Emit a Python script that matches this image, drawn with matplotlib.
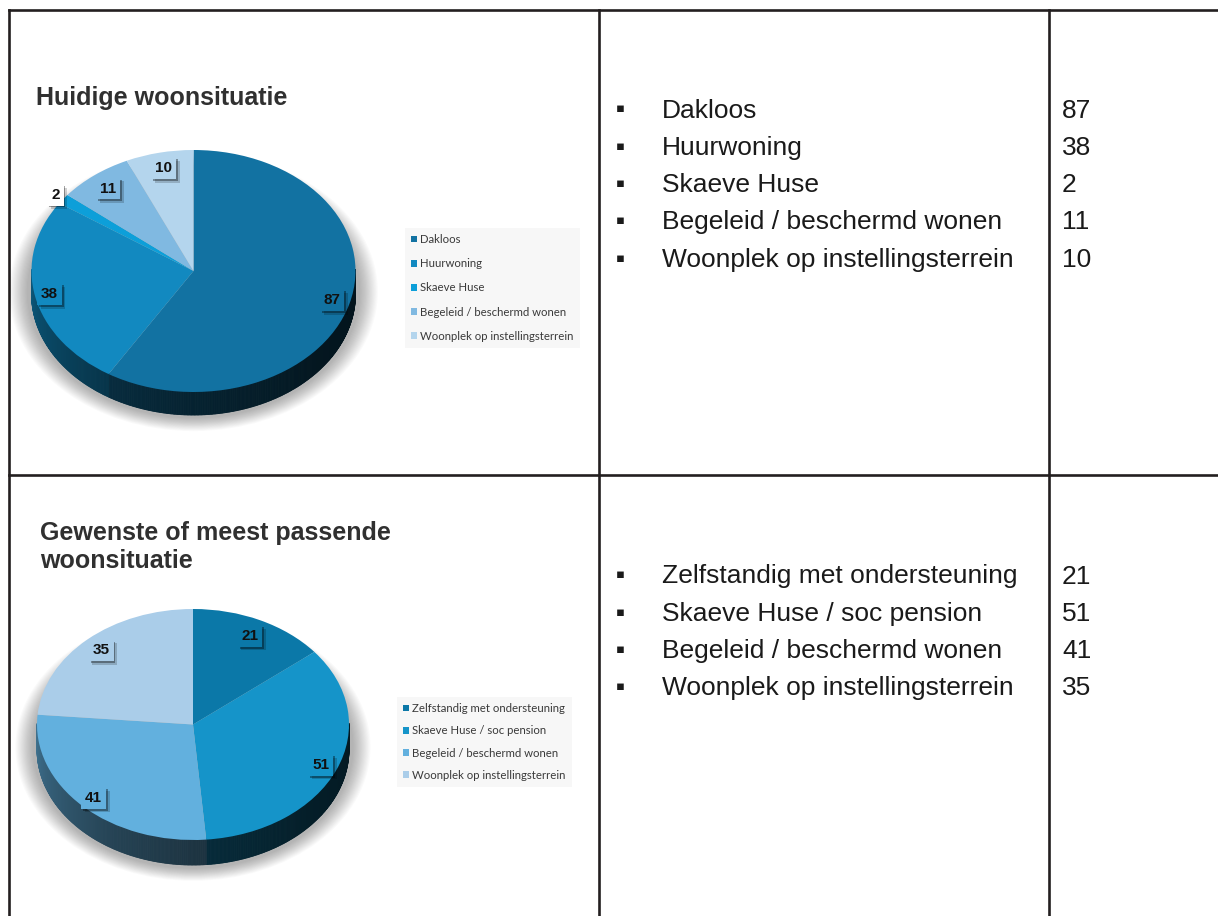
import numpy as np
import matplotlib
matplotlib.use('Agg')
import matplotlib.pyplot as plt
from matplotlib.collections import PolyCollection
from matplotlib.patches import Ellipse
import matplotlib.patheffects as pe
from matplotlib.colors import to_rgb

W, H = 1218, 916

# ---------------- data ----------------
current_title = 'Huidige woonsituatie'
current_labels = ['Dakloos', 'Huurwoning', 'Skaeve Huse',
                  'Begeleid / beschermd wonen', 'Woonplek op instellingsterrein']
current_values = [87, 38, 2, 11, 10]
current_colors = ['#1272a2', '#1289c0', '#0d9fd9', '#80b9e1', '#b4d5ed']

desired_title = ['Gewenste of meest passende', 'woonsituatie']
desired_labels = ['Zelfstandig met ondersteuning', 'Skaeve Huse / soc pension',
                  'Begeleid / beschermd wonen', 'Woonplek op instellingsterrein']
desired_values = [21, 51, 41, 35]
desired_colors = ['#0b78a8', '#1594c9', '#62b0de', '#aacde9']

# ---------------- figure ----------------
fig = plt.figure(figsize=(W / 100, H / 100), dpi=100)
fig.patch.set_facecolor('white')
bg = fig.add_axes([0, 0, 1, 1])
bg.set_xlim(0, W)
bg.set_ylim(H, 0)
bg.axis('off')

line_kw = dict(color='#231f20', lw=1.9, solid_capstyle='projecting')
bg.plot([9, W], [10, 10], **line_kw)
bg.plot([9, W], [475, 475], **line_kw)
for x in (9, 599, 1049):
    bg.plot([x, x], [10, H], **line_kw)

title_kw = dict(family=['Liberation Sans', 'DejaVu Sans'], fontweight='bold',
                fontsize=18, color='#303030', va='baseline', ha='left')
bg.text(36, 105, current_title, **title_kw)
for i, line in enumerate(desired_title):
    bg.text(40, 540 + 28 * i, line, **title_kw)

list_kw = dict(family=['Liberation Sans', 'DejaVu Sans'], fontsize=19,
               color='#1a1a1a', va='baseline', ha='left')


def draw_list(labels, values, y0, step):
    for i, (lab, val) in enumerate(zip(labels, values)):
        yb = y0 + i * step
        bg.text(616, yb - 5, '\u25aa', family='DejaVu Sans', fontsize=9.5,
                color='#1a1a1a', va='baseline', ha='left')
        bg.text(662, yb, lab, **list_kw)
        bg.text(1062, yb, str(val), **list_kw)


draw_list(current_labels, current_values, 117.5, 37.3)
draw_list(desired_labels, desired_values, 583.5, 37.3)


def draw_pie(cx, cy, rx, ry, depth_px, values, colors, labels, label_r,
             label_fc, leg_xy, leg_spacing):
    L = 1.22
    d = depth_px / ry
    left = cx - L * rx
    width = 2 * L * rx
    top = cy - L * ry
    bottom = cy + (L + d) * ry
    ax = fig.add_axes([left / W, 1 - bottom / H, width / W, (bottom - top) / H])
    ax.patch.set_alpha(0)

    # soft shadow
    for k in range(16):
        s = 1.0 + 0.007 * k
        ax.add_patch(Ellipse((0, -d * 0.9), 2 * s * 1.03, 2 * s + d * 0.5,
                             fc='#000000', ec='none', alpha=0.02, zorder=0))

    wedges, _ = ax.pie(values, colors=colors, startangle=90, counterclock=False,
                       radius=1, wedgeprops=dict(linewidth=0))
    for w in wedges:
        w.set_zorder(3)

    # side wall
    polys, cols = [], []
    for w, c in zip(wedges, colors):
        t1, t2 = w.theta1, w.theta2
        n = max(2, int(np.ceil((t2 - t1) / 0.5)))
        ang = np.linspace(t1, t2, n + 1)
        rgb = np.array(to_rgb(c))
        for a0, a1 in zip(ang[:-1], ang[1:]):
            am = ((a0 + a1) / 2) % 360
            if am < 180:
                continue
            r0, r1 = np.radians(a0), np.radians(a1)
            x0, y0 = np.cos(r0), np.sin(r0)
            x1, y1 = np.cos(r1), np.sin(r1)
            polys.append([(x0, y0 + 0.01), (x1, y1 + 0.01), (x1, y1 - d), (x0, y0 - d)])
            f = np.interp(am, [180, 200, 240, 270, 320, 360],
                          [0.66, 0.55, 0.38, 0.3, 0.2, 0.17])
            cols.append(np.clip(rgb * f, 0, 1))
    pc = PolyCollection(polys, facecolors=cols, edgecolors=cols,
                        linewidths=0.6, zorder=2)
    ax.add_collection(pc)

    # data labels
    for w, v, r, fc in zip(wedges, values, label_r, label_fc):
        mid = np.radians((w.theta1 + w.theta2) / 2)
        t = ax.text(r * np.cos(mid), r * np.sin(mid), str(v), ha='center',
                    va='center', fontsize=11, fontweight='bold',
                    family=['Liberation Sans Narrow', 'Liberation Sans', 'DejaVu Sans'],
                    color='#111111', zorder=6,
                    bbox=dict(boxstyle='square,pad=0.25', fc=fc, ec='none'))
        t.get_bbox_patch().set_path_effects(
            [pe.withSimplePatchShadow(offset=(2.6, -2.6), shadow_rgbFace='#000000',
                                      alpha=0.18),
             pe.withSimplePatchShadow(offset=(1.4, -1.4), shadow_rgbFace='#000000',
                                      alpha=0.35),
             pe.Normal()])

    ax.set_aspect('auto')
    ax.set_xlim(-L, L)
    ax.set_ylim(-L - d, L)
    ax.axis('off')

    leg = ax.legend(wedges, labels, loc='upper left',
                    bbox_to_anchor=(leg_xy[0] / W, 1 - leg_xy[1] / H),
                    bbox_transform=fig.transFigure,
                    prop=dict(family=['Lato', 'DejaVu Sans'], size=8.2),
                    frameon=True, facecolor='#f7f7f7', edgecolor='none',
                    framealpha=1, fancybox=False, handlelength=0.5,
                    handleheight=0.5, handletextpad=0.3,
                    labelspacing=leg_spacing, borderpad=0.55, borderaxespad=0)
    for txt in leg.get_texts():
        txt.set_color('#3a3a3a')
    return ax


draw_pie(193.5, 271, 162, 121, 23, current_values, current_colors,
         current_labels, [0.89, 0.91, 1.06, 0.86, 0.87],
         [current_colors[0], current_colors[1], '#ffffff',
          current_colors[3], current_colors[4]],
         (405, 228), 1.15)

draw_pie(193, 724.5, 156, 115.5, 25, desired_values, desired_colors,
         desired_labels, [0.85, 0.89, 0.9, 0.87],
         desired_colors, (397, 697), 0.98)

fig.savefig('out.png', dpi=100, facecolor='white')
